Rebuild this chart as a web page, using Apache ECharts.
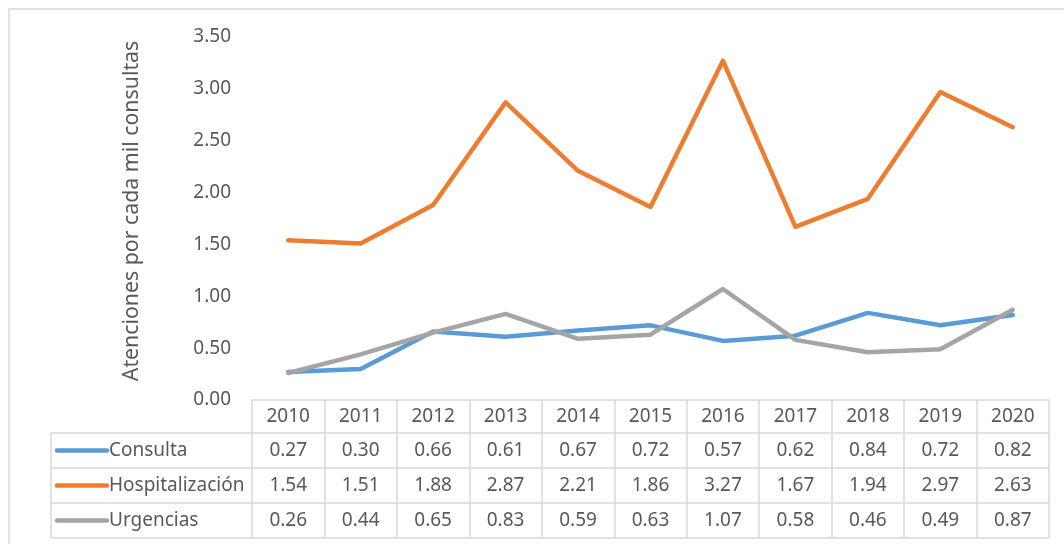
<!DOCTYPE html>
<html>
<head>
<meta charset="utf-8">
<script src="https://cdn.jsdelivr.net/npm/echarts@6/dist/echarts.min.js"></script>
<style>
html,body{margin:0;padding:0;background:#fff;}
#chart{width:1064px;height:544px;}
</style>
</head>
<body>
<div id="chart"></div>
<script>
const years = ['2010','2011','2012','2013','2014','2015','2016','2017','2018','2019','2020'];
const seriesNames = ['Consulta','Hospitalización','Urgencias'];
const consulta = [0.27,0.30,0.66,0.61,0.67,0.72,0.57,0.62,0.84,0.72,0.82];
const hospitalizacion = [1.54,1.51,1.88,2.87,2.21,1.86,3.27,1.67,1.94,2.97,2.63];
const urgencias = [0.26,0.44,0.65,0.83,0.59,0.63,1.07,0.58,0.46,0.49,0.87];
const yTicks = [0,0.5,1,1.5,2,2.5,3,3.5];
const yTitle = 'Atenciones por cada mil consultas';
const colors = ['#5B9BD5','#ED7D31','#A5A5A5'];
const allValues = [consulta,hospitalizacion,urgencias];

const FONT = 'Noto Sans';
const FS = 19;
const TXT = '#595959';
const LINE = '#d9d9d9';

const chart = echarts.init(document.getElementById('chart'));

function rowAxis(data, offset, tickLen, margin, showLabel, showTick){
  return {
    type:'category', data:data, position:'bottom', offset:offset, boundaryGap:true,
    axisLine:{show:true,lineStyle:{color:LINE,width:1.5}},
    axisTick:{show:showTick,length:tickLen,interval:0,lineStyle:{color:LINE,width:1.5}},
    axisLabel:{show:showLabel,interval:0,margin:margin,color:TXT,fontFamily:FONT,fontSize:FS,lineHeight:22},
    splitLine:{show:false}
  };
}

const tableTop = 400;
const rowH = [33,35,35,35];
let offs = [0]; for(let i=0;i<rowH.length;i++) offs.push(offs[i]+rowH[i]);

const xAxes = [
  rowAxis(years, 0, rowH[0], 5.5, true, true),
  rowAxis(consulta.map(v=>v.toFixed(2)), offs[1], rowH[1], 6.5, true, true),
  rowAxis(hospitalizacion.map(v=>v.toFixed(2)), offs[2], rowH[2], 6.5, true, true),
  rowAxis(urgencias.map(v=>v.toFixed(2)), offs[3], rowH[3], 6.5, true, true),
  rowAxis(years, offs[4], 0, 0, false, false)
];

const graphics = [
  {type:'rect',shape:{x:9,y:9,width:1200,height:700},style:{fill:'none',stroke:LINE,lineWidth:1.5},silent:true},
  {type:'line',shape:{x1:51,y1:tableTop+offs[1],x2:51,y2:tableTop+offs[4]},style:{stroke:LINE,lineWidth:1.5}},
  {type:'text',x:132,y:211,rotation:Math.PI/2,style:{text:yTitle,fill:TXT,font:'21.3px "'+FONT+'"',textAlign:'center',textVerticalAlign:'middle'}}
];
for(let i=1;i<=4;i++){
  graphics.push({type:'line',shape:{x1:51,y1:tableTop+offs[i],x2:252,y2:tableTop+offs[i]},style:{stroke:LINE,lineWidth:1.5}});
}
for(let i=0;i<3;i++){
  const cy = tableTop + offs[i+1] + rowH[i+1]/2;
  graphics.push({type:'line',shape:{x1:57,y1:cy,x2:107,y2:cy},style:{stroke:colors[i],lineWidth:4.5,lineCap:'round'}});
  graphics.push({type:'text',x:109,y:cy,style:{text:seriesNames[i],fill:TXT,font:FS+'px "'+FONT+'"',textVerticalAlign:'middle',textAlign:'left'}});
}

chart.setOption({
  animation:false,
  backgroundColor:'#fff',
  grid:{left:252,right:15,top:37,bottom:144,containLabel:false},
  xAxis: xAxes,
  yAxis:{
    type:'value', min:yTicks[0], max:yTicks[yTicks.length-1], interval:yTicks[1]-yTicks[0],
    axisLine:{show:false}, axisTick:{show:false}, splitLine:{show:false},
    axisLabel:{color:TXT,fontFamily:FONT,fontSize:FS,margin:21,formatter:v=>v.toFixed(2)}
  },
  series: seriesNames.map((n,i)=>({
    name:n, type:'line', xAxisIndex:0, data:allValues[i], symbol:'none',
    lineStyle:{color:colors[i],width:4.5,cap:'round',join:'round'}, itemStyle:{color:colors[i]}
  })),
  graphic: graphics
});
</script>
</body>
</html>
